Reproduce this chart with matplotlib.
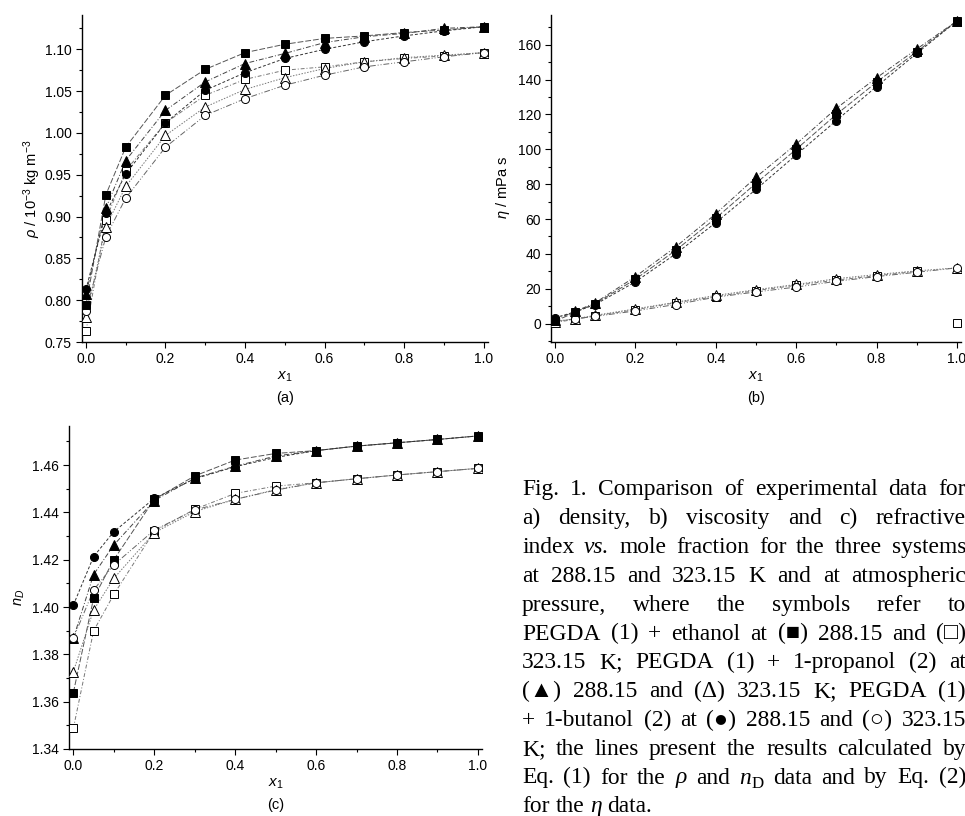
import matplotlib
matplotlib.use('Agg')
import matplotlib.pyplot as plt
from matplotlib.ticker import MultipleLocator, FormatStrFormatter

plt.rcParams['font.family'] = ['Liberation Sans', 'DejaVu Sans']
plt.rcParams['mathtext.fontset'] = 'custom'
plt.rcParams['mathtext.rm'] = 'Liberation Sans'
plt.rcParams['mathtext.it'] = 'Liberation Sans:italic'
plt.rcParams['mathtext.bf'] = 'Liberation Sans:bold'

# mole fraction of PEGDA
x1 = [0.0, 0.05, 0.1, 0.2, 0.3, 0.4, 0.5, 0.6, 0.7, 0.8, 0.9, 1.0]

# (a) density / 10^3 kg m^-3
rho_eth_288 = [0.794, 0.926, 0.983, 1.045, 1.076, 1.096, 1.106, 1.113, 1.116, 1.120, 1.123, 1.127]
rho_eth_323 = [0.763, 0.896, 0.955, 1.012, 1.045, 1.064, 1.075, 1.079, 1.085, 1.089, 1.092, 1.096]
rho_pro_288 = [0.807, 0.910, 0.967, 1.027, 1.061, 1.083, 1.095, 1.108, 1.115, 1.119, 1.125, 1.127]
rho_pro_323 = [0.780, 0.888, 0.936, 0.997, 1.031, 1.052, 1.066, 1.077, 1.085, 1.090, 1.093, 1.096]
rho_but_288 = [0.813, 0.904, 0.951, 1.012, 1.051, 1.072, 1.089, 1.100, 1.109, 1.116, 1.122, 1.127]
rho_but_323 = [0.787, 0.876, 0.922, 0.983, 1.021, 1.041, 1.057, 1.069, 1.079, 1.085, 1.091, 1.096]

# (b) viscosity / mPa s
eta_eth_288 = [1.4, 6.5, 11.5, 25.5, 42.0, 60.5, 80.5, 100.0, 120.0, 138.5, 156.0, 173.6]
eta_eth_323 = [0.7, 2.5, 4.5, 8.0, 12.0, 15.5, 19.0, 22.0, 25.0, 27.5, 30.0, 0.5]
eta_pro_288 = [2.3, 7.0, 12.0, 27.0, 44.0, 63.0, 84.0, 103.0, 123.5, 141.0, 157.5, 173.6]
eta_pro_323 = [1.2, 2.8, 4.8, 8.5, 12.3, 16.2, 19.5, 22.5, 25.8, 28.2, 30.3, 32.0]
eta_but_288 = [3.4, 6.8, 11.0, 24.0, 40.0, 58.0, 77.0, 96.8, 116.5, 136.0, 155.0, 173.6]
eta_but_323 = [1.4, 2.8, 4.2, 7.3, 11.0, 15.2, 18.2, 21.0, 24.3, 27.0, 29.5, 32.0]

# (c) refractive index n_D
nd_eth_288 = [1.3638, 1.4037, 1.4200, 1.4455, 1.4554, 1.4621, 1.4649, 1.4661, 1.4680, 1.4694, 1.4708, 1.4723]
nd_eth_323 = [1.3487, 1.3899, 1.4053, 1.4320, 1.4413, 1.4480, 1.4511, 1.4525, 1.4542, 1.4558, 1.4572, 1.4586]
nd_pro_288 = [1.3868, 1.4137, 1.4262, 1.4450, 1.4545, 1.4595, 1.4638, 1.4661, 1.4680, 1.4694, 1.4708, 1.4723]
nd_pro_323 = [1.3727, 1.3987, 1.4121, 1.4314, 1.4403, 1.4455, 1.4496, 1.4525, 1.4542, 1.4558, 1.4572, 1.4586]
nd_but_288 = [1.4008, 1.4213, 1.4318, 1.4459, 1.4542, 1.4593, 1.4632, 1.4661, 1.4680, 1.4694, 1.4708, 1.4723]
nd_but_323 = [1.3868, 1.4072, 1.4178, 1.4325, 1.4410, 1.4455, 1.4494, 1.4525, 1.4542, 1.4558, 1.4572, 1.4586]

caption = [
    "Fig. 1. Comparison of experimental data for",
    "a) density, b) viscosity and c) refractive",
    "index *vs.* mole fraction for the three systems",
    "at 288.15 and 323.15 K and at atmospheric",
    "pressure, where the symbols refer to",
    "PEGDA (1) + ethanol at (\u25a0) 288.15 and (\u25a1)",
    "323.15 K; PEGDA (1) + 1-propanol (2) at",
    "(\u25b2) 288.15 and (\u0394) 323.15 K; PEGDA (1)",
    "+ 1-butanol (2) at (\u25cf) 288.15 and (\u25cb) 323.15",
    "K; the lines present the results calculated by",
    "Eq. (1) for the *\u03c1* and *n*~D data and by Eq. (2)",
    "for the *\u03b7* data.",
]

# marker / line look per series
styles = {
    'eth_288': dict(marker='s', mfc='black', ms=5.5, dashes=(6, 2), lc='#555555'),
    'eth_323': dict(marker='s', mfc='white', ms=5.5, dashes=(4, 2, 1, 2), lc='#777777'),
    'pro_288': dict(marker='^', mfc='black', ms=6.5, dashes=(5, 2, 1, 2), lc='#444444'),
    'pro_323': dict(marker='^', mfc='white', ms=6.5, dashes=(1.5, 1.5), lc='#777777'),
    'but_288': dict(marker='o', mfc='black', ms=5.8, dashes=(3, 2), lc='#333333'),
    'but_323': dict(marker='o', mfc='white', ms=5.8, dashes=(6, 2, 1, 2, 1, 2), lc='#666666'),
}

W_PX, H_PX = 965, 816
fig = plt.figure(figsize=(9.65, 8.16), dpi=100)


def px_axes(l, t, r, b):
    return fig.add_axes([l / W_PX, 1 - b / H_PX, (r - l) / W_PX, (b - t) / H_PX])


def draw(ax, series, line_upto=None):
    for key, y in series:
        st = styles[key]
        n = len(x1) if line_upto is None or key not in line_upto else line_upto[key]
        ax.plot(x1[:n], y[:n], color=st['lc'], lw=0.7, dashes=st['dashes'], zorder=2)
        ax.plot(x1, y, ls='none', marker=st['marker'], mfc=st['mfc'], mec='black',
                mew=0.7, ms=st['ms'], zorder=3)


def style(ax, ylim, ymaj, ymin, yfmt, ylabel, ylab_pos, tag, h_px):
    ax.set_xlim(-0.01, 1.01)
    ax.set_ylim(*ylim)
    for s in ('top', 'right'):
        ax.spines[s].set_visible(False)
    for s in ('left', 'bottom'):
        ax.spines[s].set_linewidth(1.0)
    ax.xaxis.set_major_locator(MultipleLocator(0.2))
    ax.xaxis.set_minor_locator(MultipleLocator(0.1))
    ax.xaxis.set_major_formatter(FormatStrFormatter('%.1f'))
    ax.yaxis.set_major_locator(MultipleLocator(ymaj))
    ax.yaxis.set_minor_locator(MultipleLocator(ymin))
    ax.yaxis.set_major_formatter(FormatStrFormatter(yfmt))
    ax.tick_params(which='major', direction='out', length=4.3, width=0.8, pad=3, labelsize=10)
    ax.tick_params(which='minor', direction='out', length=2.2, width=0.8)
    ax.set_xlabel(r'$x_1$', fontsize=11, va='center')
    ax.xaxis.set_label_coords(0.5, -35 / h_px)
    ax.set_ylabel(ylabel, fontsize=10.5, va='center')
    ax.yaxis.set_label_coords(*ylab_pos)
    ax.text(0.5, -56 / h_px, tag, transform=ax.transAxes, ha='center', va='center', fontsize=10.5)


ax_a = px_axes(82, 15, 487.5, 342)
draw(ax_a, [('eth_323', rho_eth_323), ('pro_323', rho_pro_323), ('but_323', rho_but_323),
            ('eth_288', rho_eth_288), ('pro_288', rho_pro_288), ('but_288', rho_but_288)])
style(ax_a, (0.75, 1.141), 0.05, 0.025, '%.2f', r'$\rho$ / 10$^{-3}$ kg m$^{-3}$',
      (-0.123, 0.47), '(a)', 327)

ax_b = px_axes(551, 15, 961, 342)
draw(ax_b, [('eth_323', eta_eth_323), ('pro_323', eta_pro_323), ('but_323', eta_but_323),
            ('eth_288', eta_eth_288), ('pro_288', eta_pro_288), ('but_288', eta_but_288)],
     line_upto={'eth_323': len(x1) - 1})
style(ax_b, (-10.5, 177), 20, 10, '%d', r'$\eta$ / mPa s', (-0.117, 0.474), '(b)', 327)

ax_c = px_axes(69.3, 426, 481.9, 749)
draw(ax_c, [('eth_288', nd_eth_288), ('pro_288', nd_pro_288), ('but_288', nd_but_288),
            ('eth_323', nd_eth_323), ('pro_323', nd_pro_323), ('but_323', nd_but_323)])
style(ax_c, (1.34, 1.4765), 0.02, 0.01, '%.2f', r'$n_D$', (-0.12, 0.47), '(c)', 323)

# justified caption on the right
renderer = fig.canvas.get_renderer()
cap_fs = 16.9
cap_px = cap_fs * 100 / 72
left_px, right_px = 522, 966
base0, lead = 495.5, 28.8
serif = ['Liberation Serif', 'DejaVu Serif']


def make_word(word, y):
    segs, buf, italic, sub = [], '', False, False
    for ch in word:
        if ch in '*~':
            if buf:
                segs.append((buf, italic, sub))
                buf = ''
            if ch == '*':
                italic = not italic
            else:
                sub, italic = True, False
        else:
            buf += ch
    if buf:
        segs.append((buf, italic, sub))
    out = []
    for s, it, sb in segs:
        yy = y - (0.2 * cap_px / H_PX if sb else 0)
        t = fig.text(0, yy, s, fontsize=cap_fs * (0.72 if sb else 1.0),
                     fontstyle='italic' if it else 'normal', family=serif,
                     va='baseline', ha='left')
        out.append((t, t.get_window_extent(renderer).width))
    return out


for i, line in enumerate(caption):
    y = 1 - (base0 + i * lead) / H_PX
    words = [make_word(w, y) for w in line.split(' ')]
    widths = [sum(w for _, w in wd) for wd in words]
    last = i == len(caption) - 1
    gap = 0.25 * cap_px if last else (right_px - left_px - sum(widths)) / (len(words) - 1)
    cur = left_px
    for wd, ww in zip(words, widths):
        c = cur
        for t, w in wd:
            t.set_x(c / W_PX)
            c += w
        cur += ww + gap

fig.savefig('out.png', dpi=100)
